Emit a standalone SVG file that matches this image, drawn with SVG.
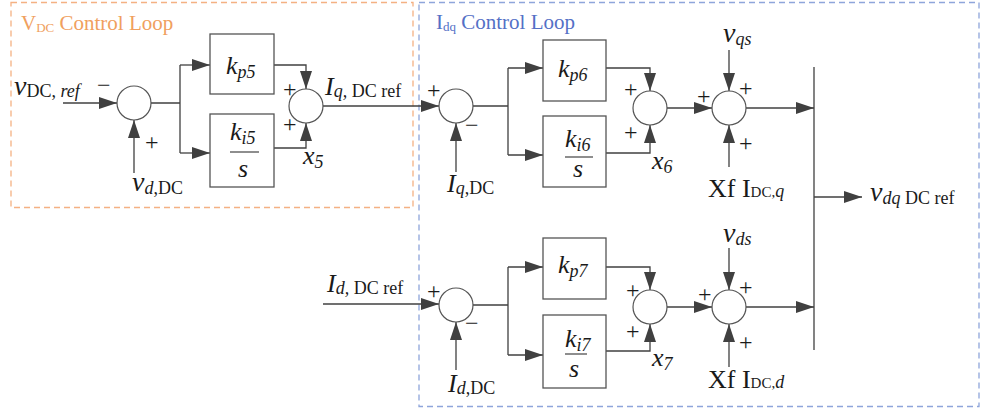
<svg xmlns="http://www.w3.org/2000/svg" width="982" height="413" viewBox="0 0 982 413" font-family="Liberation Serif, serif">
<style>
text{font-family:"Liberation Serif",serif;fill:#1a1a1a}
.it{font-style:italic}
.big{font-size:28px}
.mid{font-size:26px}
.sub{font-size:18px}
.sm{font-size:15px}
.sign{font-size:24px}
.ln{fill:none;stroke:#404040;stroke-width:1.3}
.arr{marker-end:url(#ah)}
.box{fill:#fff;stroke:#555;stroke-width:1.3}
.sum{fill:#fff;stroke:#555;stroke-width:1.2}
.frac{stroke:#444;stroke-width:1.2}
.frame{fill:none;stroke-width:1.3;stroke-dasharray:6,4}
</style>
<defs>
<marker id="ah" markerUnits="userSpaceOnUse" markerWidth="18" markerHeight="12" refX="18" refY="6" orient="auto">
<path d="M0,0 L18,6 L0,12 z" fill="#404040"/>
</marker>
</defs>

<g id="frames">
<rect class="frame" x="11" y="2.5" width="402" height="205" stroke="#F4B183"/>
<rect class="frame" x="419" y="2.5" width="560" height="404" stroke="#8EA5DB"/>
<text x="21" y="30" style="font-size:21px;fill:#F0A05E">V<tspan style="font-size:13px" dy="2">DC</tspan><tspan dy="-2"> Control Loop</tspan></text>
<text x="436" y="29" style="font-size:21px;fill:#5470C6">I<tspan style="font-size:13px" dy="2">dq</tspan><tspan dy="-2"> Control Loop</tspan></text>
</g>

<g id="connectors">
<path class="ln arr" d="M63,103 H117"/>
<path class="ln arr" d="M134,173 V120"/>
<path class="ln" d="M151,103 H180 M180,65 V153"/>
<path class="ln arr" d="M180,65 H210"/>
<path class="ln arr" d="M180,153 H210"/>
<path class="ln arr" d="M274,65 H306 V89"/>
<path class="ln arr" d="M274,148 H306 V123"/>
<path class="ln arr" d="M323,106 H439"/>

<path class="ln arr" d="M456,172 V123"/>
<path class="ln" d="M473,106 H508 M508,68 V155"/>
<path class="ln arr" d="M508,68 H543"/>
<path class="ln arr" d="M508,155 H543"/>
<path class="ln arr" d="M606,68 H650 V91"/>
<path class="ln arr" d="M606,153 H650 V125"/>
<path class="ln arr" d="M667,108 H712"/>
<path class="ln arr" d="M729,50 V91"/>
<path class="ln arr" d="M729,167 V125"/>
<path class="ln arr" d="M746,108 H814"/>

<path class="ln" d="M814,67 V350"/>
<path class="ln arr" d="M814,197 H862"/>

<path class="ln arr" d="M323,304 H439"/>
<path class="ln arr" d="M456,370 V322"/>
<path class="ln" d="M473,305 H508 M508,267 V355"/>
<path class="ln arr" d="M508,267 H543"/>
<path class="ln arr" d="M508,355 H543"/>
<path class="ln arr" d="M606,267 H650 V290"/>
<path class="ln arr" d="M606,351 H650 V324"/>
<path class="ln arr" d="M667,307 H712"/>
<path class="ln arr" d="M729,248 V290"/>
<path class="ln arr" d="M729,367 V324"/>
<path class="ln arr" d="M746,307 H814"/>
</g>

<g id="sum1">
<circle class="sum" cx="134" cy="103" r="17"/>
<text class="sign" x="97" y="93">−</text>
<text class="sign" x="145" y="150">+</text>
</g>
<g id="kp5">
<rect class="box" x="210" y="34" width="64" height="60"/>
<text x="226" y="74"><tspan class="it mid">k</tspan><tspan class="it sub" dy="4">p5</tspan></text>
</g>
<g id="ki5">
<rect class="box" x="210" y="114" width="64" height="73"/>
<text x="230" y="140"><tspan class="it mid">k</tspan><tspan class="it sub" dy="4">i5</tspan></text>
<line class="frac" x1="230" y1="152" x2="259" y2="152"/>
<text class="it mid" x="238" y="177">s</text>
</g>
<g id="sum2">
<circle class="sum" cx="306" cy="106" r="17"/>
<text class="sign" x="283" y="97">+</text>
<text class="sign" x="283" y="132">+</text>
</g>

<g id="sumA">
<circle class="sum" cx="456" cy="106" r="17"/>
<text class="sign" x="427" y="98">+</text>
<text class="sign" x="465" y="133">−</text>
</g>
<g id="kp6">
<rect class="box" x="543" y="40" width="63" height="61"/>
<text x="558" y="77"><tspan class="it mid">k</tspan><tspan class="it sub" dy="4">p6</tspan></text>
</g>
<g id="ki6">
<rect class="box" x="543" y="116" width="63" height="71"/>
<text x="565" y="147"><tspan class="it mid">k</tspan><tspan class="it sub" dy="4">i6</tspan></text>
<line class="frac" x1="565" y1="157" x2="593" y2="157"/>
<text class="it mid" x="573" y="177">s</text>
</g>
<g id="sumB">
<circle class="sum" cx="650" cy="108" r="17"/>
<text class="sign" x="624" y="97">+</text>
<text class="sign" x="624" y="140">+</text>
</g>
<g id="sumC">
<circle class="sum" cx="729" cy="108" r="17"/>
<text class="sign" x="697" y="104">+</text>
<text class="sign" x="739" y="96">+</text>
<text class="sign" x="739" y="151">+</text>
</g>

<g id="sumE">
<circle class="sum" cx="456" cy="305" r="17"/>
<text class="sign" x="427" y="299">+</text>
<text class="sign" x="465" y="331">−</text>
</g>
<g id="kp7">
<rect class="box" x="543" y="238" width="63" height="61"/>
<text x="558" y="273"><tspan class="it mid">k</tspan><tspan class="it sub" dy="4">p7</tspan></text>
</g>
<g id="ki7">
<rect class="box" x="543" y="315" width="63" height="73"/>
<text x="565" y="347"><tspan class="it mid">k</tspan><tspan class="it sub" dy="4">i7</tspan></text>
<line class="frac" x1="565" y1="354" x2="587" y2="354"/>
<text class="it mid" x="569" y="377">s</text>
</g>
<g id="sumF">
<circle class="sum" cx="650" cy="307" r="17"/>
<text class="sign" x="626" y="298">+</text>
<text class="sign" x="626" y="339">+</text>
</g>
<g id="sumD">
<circle class="sum" cx="729" cy="307" r="17"/>
<text class="sign" x="698" y="302">+</text>
<text class="sign" x="739" y="295">+</text>
<text class="sign" x="739" y="350">+</text>
</g>

<g id="labels">
<text x="14" y="95"><tspan class="it big">v</tspan><tspan class="sub" dy="2">DC, </tspan><tspan class="it sub">ref</tspan></text>
<text x="132" y="191"><tspan class="it big">v</tspan><tspan class="it sub" dy="3">d</tspan><tspan class="sub">,DC</tspan></text>
<text x="325" y="95"><tspan class="it mid">I</tspan><tspan class="it sub" dy="2">q,</tspan><tspan class="sub"> DC ref</tspan></text>
<text x="303" y="164"><tspan class="it mid">x</tspan><tspan class="it sub" dy="4">5</tspan></text>
<text x="447" y="192"><tspan class="it mid">I</tspan><tspan class="it sub" dy="2">q</tspan><tspan class="sub">,DC</tspan></text>
<text x="652" y="169"><tspan class="it mid">x</tspan><tspan class="it sub" dy="4">6</tspan></text>
<text x="723" y="42"><tspan class="it big">v</tspan><tspan class="it sub" dy="3">qs</tspan></text>
<text x="708" y="197"><tspan class="mid">Xf I</tspan><tspan class="sm">DC,</tspan><tspan class="it sub">q</tspan></text>
<text x="870" y="201"><tspan class="it big">v</tspan><tspan class="it sub" dy="3">dq</tspan><tspan class="sub"> DC ref</tspan></text>
<text x="723" y="242"><tspan class="it big">v</tspan><tspan class="it sub" dy="3">ds</tspan></text>
<text x="708" y="388"><tspan class="mid">Xf I</tspan><tspan class="sm">DC,</tspan><tspan class="it sub">d</tspan></text>
<text x="327" y="292"><tspan class="it mid">I</tspan><tspan class="it sub" dy="2">d,</tspan><tspan class="sub"> DC ref</tspan></text>
<text x="652" y="366"><tspan class="it mid">x</tspan><tspan class="it sub" dy="4">7</tspan></text>
<text x="448" y="392"><tspan class="it mid">I</tspan><tspan class="it sub" dy="2">d</tspan><tspan class="sub">,DC</tspan></text>
</g>
</svg>
